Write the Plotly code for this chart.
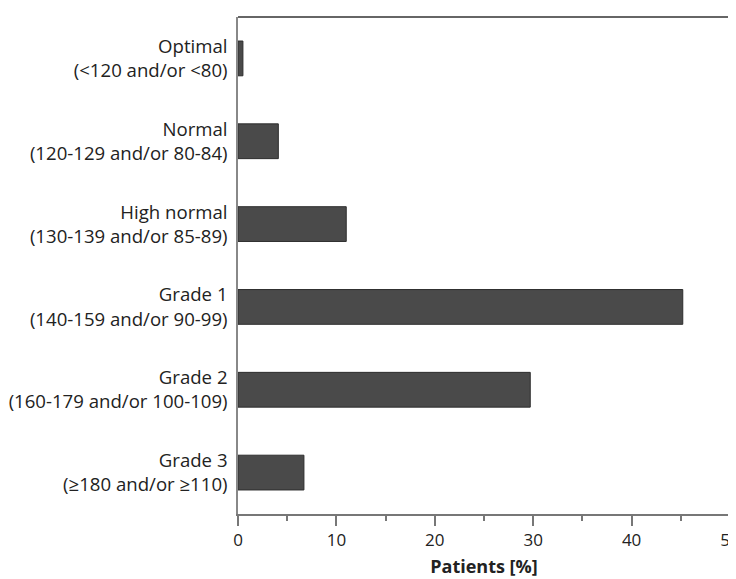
import plotly.graph_objects as go

categories = [
    "Optimal<br>(<120 and/or <80)",
    "Normal<br>(120-129 and/or 80-84)",
    "High normal<br>(130-139 and/or 85-89)",
    "Grade 1<br>(140-159 and/or 90-99)",
    "Grade 2<br>(160-179 and/or 100-109)",
    "Grade 3<br>(≥180 and/or ≥110)",
]
values = [0.5, 4.1, 11.0, 45.2, 29.7, 6.7]
x_ticks = [0, 10, 20, 30, 40, 50]

fig = go.Figure()
fig.add_trace(go.Bar(
    x=values, y=categories, orientation="h",
    marker=dict(color="#4a4a4a", line=dict(color="#2e2e2e", width=1)),
    width=0.42,
))

fig.update_layout(
    width=728, height=571,
    margin=dict(l=230, r=6, t=9, b=65, autoexpand=False),
    plot_bgcolor="white", paper_bgcolor="white",
    font=dict(family="Open Sans", size=18.6, color="#222"),
    showlegend=False,
)
fig.update_xaxes(
    range=[0, 50], tickvals=x_ticks, ticks="outside", ticklen=10, tickwidth=1.5,
    tickcolor="#777", showline=True, linecolor="#777", linewidth=1.5,
    showgrid=False, zeroline=False, automargin=False,
    tickfont=dict(size=17), ticklabeloverflow="allow",
    minor=dict(dtick=5, ticks="outside", ticklen=5, tickcolor="#777", tickwidth=1.5, showgrid=False),
    title=dict(text="<b>Patients [%]</b>", font=dict(size=18), standoff=10),
)
fig.update_yaxes(
    autorange="reversed", showline=True, linecolor="#888", linewidth=1.5,
    ticks="", showgrid=False, ticklabelstandoff=5, automargin=False,
    tickfont=dict(size=18.6),
)
fig.add_shape(type="line", xref="paper", yref="paper", x0=0, x1=1, y0=1, y1=1,
              line=dict(color="#333", width=1.5))

fig.write_html("out.html")
